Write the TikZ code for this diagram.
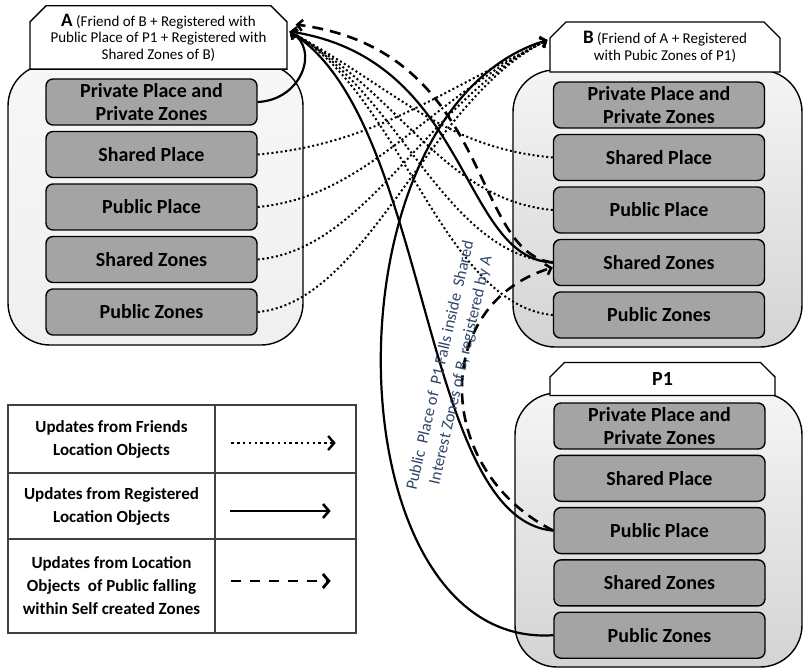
\documentclass[tikz,border=0pt]{standalone}
\usepackage{fontspec}
\setmainfont{Carlito}
\usetikzlibrary{arrows.meta,shapes.misc,calc}
\definecolor{rowgray}{HTML}{A4A4A4}
\definecolor{notecol}{HTML}{2F466B}
\begin{document}
\begin{tikzpicture}[x=1pt,y=-1pt,line width=1.4pt,
  >={Straight Barb[length=5pt,width=11pt]},
  head/.style={draw,fill=white,chamfered rectangle,
    chamfered rectangle corners={north west,north east},
    chamfered rectangle xsep=8pt,chamfered rectangle ysep=8pt,
    inner sep=0pt,align=center,font=\fontsize{15}{16.5}\selectfont},
  rowbox/.style={draw,fill=rowgray,rounded corners=7pt,minimum width=211pt,
    minimum height=46pt,inner sep=0pt,align=center,
    font=\bfseries\fontsize{20}{23}\selectfont},
  frd/.style={->,line width=2pt,dash pattern=on 2pt off 2.6pt},
  reg/.style={->,line width=2.2pt},
  pub/.style={->,line width=2.6pt,dash pattern=on 11pt off 7pt},
  key/.style={align=center,font=\bfseries\fontsize{17}{23}\selectfont}]
\useasboundingbox (0,0) rectangle (804,669);
% containers
\shade[draw,rounded corners=42pt,top color=gray!6,bottom color=gray!12] (8,64) rectangle (303,345);
\shade[draw,rounded corners=42pt,top color=gray!8,bottom color=gray!34] (513,70) rectangle (802,347);
\shade[draw,rounded corners=42pt,top color=gray!8,bottom color=gray!34] (515,393) rectangle (802,667);
% headers
\node[head,minimum width=257pt,minimum height=59pt] (ahead) at (158.5,37.5)
  {{\bfseries\fontsize{19}{18}\selectfont A} (Friend of B +  Registered with\\Public Place of P1 +  Registered with\\Shared Zones of B)};
\node[head,minimum width=230pt,minimum height=50pt] (bhead) at (665,47)
  {{\bfseries\fontsize{19}{18}\selectfont B} (Friend of A + Registered\\with Pubic Zones of P1)};
\node[head,minimum width=225pt,minimum height=33pt,font=\bfseries\fontsize{20}{20}\selectfont] (phead) at (662.5,379) {P1};
% rows
\foreach \txt [count=\i] in {{Private Place and\\Private Zones},Shared Place,Public Place,Shared Zones,Public Zones}{
  \node[rowbox] (a\i) at (151.5,{49.5+52.5*\i}) {\txt};
  \node[rowbox] (b\i) at (659,{52.5+52.5*\i}) {\txt};
  \node[rowbox] (p\i) at (659.5,{373.7+52.3*\i}) {\txt};
}
\coordinate (ain) at ($(ahead.east)+(2,-6)$);
\coordinate (atop) at ($(ahead.east)+(8,-13)$);
\coordinate (bin) at ($(bhead.west)+(-2,-7)$);
\coordinate (bz) at ($(b4.west)+(0,5)$);
% friends
\foreach \i in {2,...,5}{
  \draw[frd] (a\i.east) .. controls +(110,-10) and +(-120,60) .. (bin);
  \draw[frd] (b\i.west) .. controls +(-110,-10) and +(110,60) .. (ain);
}
% registered
\draw[reg] (a1.east) .. controls +(44,-2) and +(30,18) .. (ain);
\draw[reg] (b4.west) .. controls +(-93,-4) and +(181,28) .. (ain);
\draw[reg] (p3.west) .. controls +(-133,-11) and +(141,88) .. (ain);
\draw[reg] (p5.west) .. controls +(-223,15) and +(-228,70) .. (bin);
% public inside own zones
\draw[pub] (p3.west) .. controls +(-121,-61) and +(-121,36) .. (bz);
\draw[pub] (b4.west) .. controls +(-83,-10) and +(198,26) .. (atop);
\node[rotate=77,align=center,text=notecol,font=\fontsize{16.5}{21}\selectfont] (note) at (451,368)
  {Public\ \ Place of\ \ P1 Falls inside\ \ Shared\\Interest Zones of B, registered by A};
% legend
\draw[line width=1.2pt,draw=black!75] (8,405) rectangle (356,633)
  (215,405) -- (215,633) (8,473) -- (356,473) (8,539) -- (356,539);
\node[key] (k1) at (111.5,439) {Updates from Friends\\Location Objects};
\node[key] (k2) at (111.5,506) {Updates from Registered\\Location Objects};
\node[key] (k3) at (111.5,586) {Updates from Location\\Objects\ \ of Public falling\\within Self created Zones};
\node[minimum width=141pt,inner sep=0pt] (s1) at (285.5,443) {};
\node[minimum width=141pt,inner sep=0pt] (s2) at (285.5,511) {};
\node[minimum width=141pt,inner sep=0pt] (s3) at (285.5,581) {};
\draw[frd,line width=2.4pt,dash pattern=on 2.4pt off 3.4pt,>={Straight Barb[length=6pt,width=14pt]},shorten <=17pt,shorten >=21pt] (s1.west) -- (s1.east);
\draw[reg,line width=2.6pt,>={Straight Barb[length=6pt,width=14pt]},shorten <=16pt,shorten >=26pt] (s2.west) -- (s2.east);
\draw[pub,line width=2.8pt,dash pattern=on 10pt off 9pt,>={Straight Barb[length=6pt,width=14pt]},shorten <=17pt,shorten >=26pt] (s3.west) -- (s3.east);
%\draw[step=10, thin] (0,0) grid (804,669);
\end{tikzpicture}
\end{document}
